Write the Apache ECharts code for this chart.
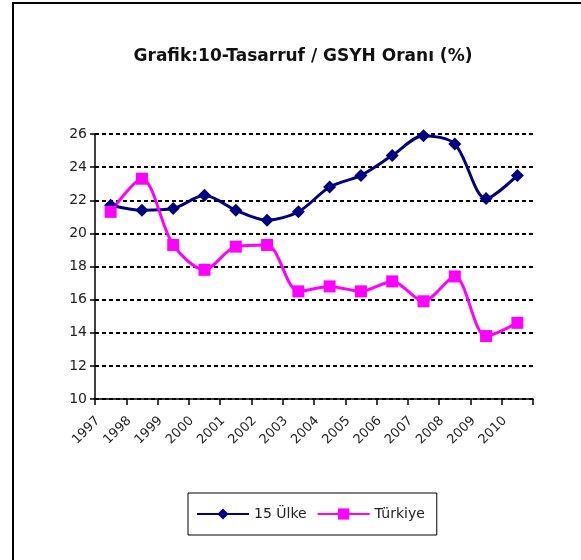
<!DOCTYPE html>
<html>
<head>
<meta charset="utf-8">
<script src="https://cdn.jsdelivr.net/npm/echarts@6/dist/echarts.min.js"></script>
<style>
  html, body { margin: 0; padding: 0; background: #fff; }
  #chart { width: 581px; height: 560px; }
</style>
</head>
<body>
<div id="chart"></div>
<script>
// yillar
var years = ["1997", "1998", "1999", "2000", "2001", "2002", "2003",
  "2004", "2005", "2006", "2007", "2008", "2009", "2010"];
// 15 Ülke tasarruf / GSYH
var ulke15 = [21.7, 21.4, 21.5, 22.3, 21.4, 20.8, 21.3, 22.8, 23.5, 24.7, 25.9, 25.4, 22.1, 23.5];
// Türkiye
var turkiye = [21.3, 23.3, 19.3, 17.8, 19.2, 19.3, 16.5, 16.8, 16.5, 17.1, 15.9, 17.4, 13.8, 14.6];

var font = "DejaVu Sans";

var myChart = echarts.init(document.getElementById("chart"));
myChart.setOption({
  backgroundColor: "#fff",
  animation: false,
  textStyle: { fontFamily: font },
  title: {
    text: "Grafik:10-Tasarruf / GSYH Oranı (%)",
    left: 298,
    top: 43,
    textAlign: "center",
    textStyle: { fontFamily: font, fontSize: 17, fontWeight: "bold", color: "#111" }
  },
  // cerceve
  graphic: [{
    type: "rect",
    shape: { x: 13, y: 3, width: 600, height: 600 },
    style: { fill: null, stroke: "#000", lineWidth: 2 },
    silent: true
  }],
  grid: { left: 95, right: 48, top: 134, bottom: 161 },
  legend: {
    left: 188,
    top: 493,
    padding: [14, 12, 14, 8],
    itemWidth: 52,
    itemHeight: 14,
    itemGap: 10,
    borderColor: "#000",
    borderWidth: 1,
    textStyle: { fontFamily: font, fontSize: 14, color: "#222" },
    data: ["15 Ülke", "Türkiye"]
  },
  xAxis: {
    type: "category",
    data: years,
    boundaryGap: true,
    axisLine: { lineStyle: { color: "#000", width: 1.5 } },
    axisTick: { show: true, length: 6, alignWithLabel: false, lineStyle: { color: "#000", width: 1.5 } },
    axisLabel: {
      rotate: 45,
      interval: 0,
      margin: 7,
      padding: [0, 18, 0, 0],
      fontFamily: font,
      fontSize: 13,
      color: "#222"
    }
  },
  yAxis: {
    type: "value",
    min: 10,
    max: 26,
    interval: 2,
    axisLine: { show: true, lineStyle: { color: "#000", width: 1.5 } },
    axisTick: { show: true, length: 5, lineStyle: { color: "#000", width: 1.5 } },
    axisLabel: { fontFamily: font, fontSize: 14, color: "#222", margin: 8 },
    splitLine: { lineStyle: { color: "#000", width: 2, type: [4, 3] } }
  },
  series: [
    {
      name: "15 Ülke",
      type: "line",
      data: ulke15,
      smooth: 0.3,
      symbol: "diamond",
      symbolSize: 13,
      itemStyle: { color: "#000080" },
      lineStyle: { color: "#000080", width: 3 }
    },
    {
      name: "Türkiye",
      type: "line",
      data: turkiye,
      smooth: 0.3,
      symbol: "rect",
      symbolSize: 12,
      itemStyle: { color: "#ff00ff" },
      lineStyle: { color: "#ff00ff", width: 3 }
    }
  ]
});
</script>
</body>
</html>
